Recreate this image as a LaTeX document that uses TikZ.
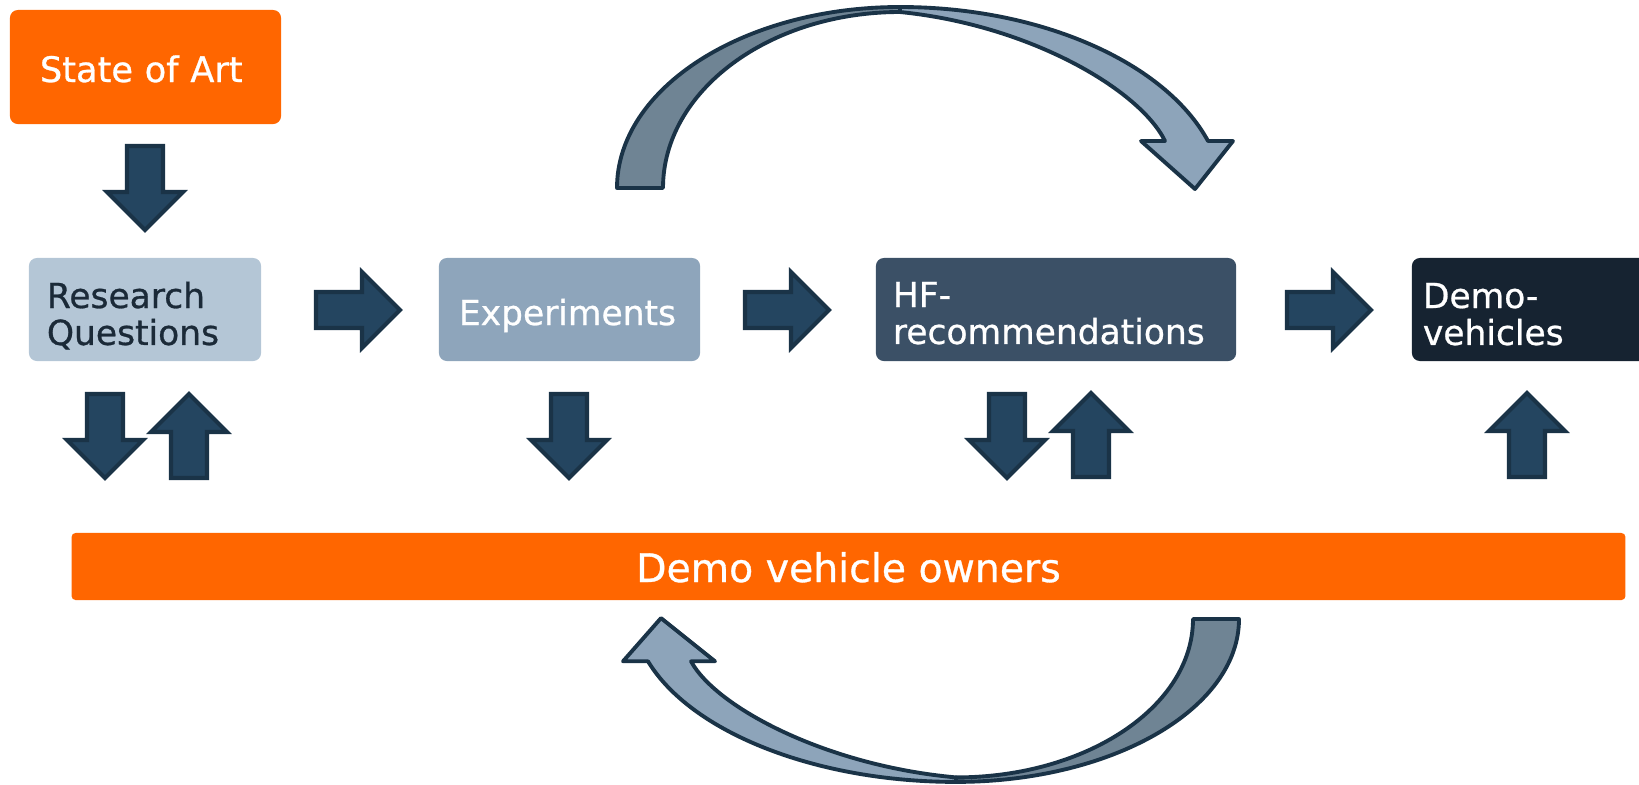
\documentclass[tikz,border=0pt]{standalone}
\usepackage{fontspec}
\setmainfont{DejaVu Sans}[FakeBold=0.8]
\usepackage{tikz}

\definecolor{artorange}{HTML}{FF6600}
\definecolor{rqblue}{HTML}{B4C6D6}
\definecolor{expblue}{HTML}{8EA5BB}
\definecolor{hfblue}{HTML}{3B5066}
\definecolor{demonavy}{HTML}{162331}
\definecolor{textnavy}{HTML}{1B2A38}
\definecolor{arrowfill}{HTML}{244560}
\definecolor{arrowline}{HTML}{1A3347}
\definecolor{loopdark}{HTML}{6F8494}
\definecolor{looplight}{HTML}{8DA4BA}

\begin{document}
\begin{tikzpicture}[
    x=0.01cm, y=-0.01cm,
    box/.style={rectangle, rounded corners=0.08cm, minimum height=1.03cm, align=left, font=\fontsize{9.8}{10.5}\selectfont},
    oneline/.style={text height=0.31cm, text depth=0cm},
    twoline/.style={text height=0.2cm, text depth=0.23cm},
    block arrow/.pic={
        \filldraw[fill=arrowfill, draw=arrowline, line width=1.15pt]
            (-84,-18) -- (-38,-18) -- (-38,-38) -- (0,0) -- (-38,38) -- (-38,18) -- (-84,18) -- cycle;
    },
    loop arrow/.pic={
        \filldraw[fill=loopdark, draw=arrowline, line width=1.1pt, line join=round]
            (617,188) .. controls (617,88) and (744,7) .. (900,7) -- (900,12)
            .. controls (769,12) and (663,91) .. (663,188) -- cycle;
        \filldraw[fill=looplight, draw=arrowline, line width=1.1pt, line join=round]
            (900,7) .. controls (1040,7) and (1165,62) .. (1208,141) -- (1233,141) -- (1195,189)
            -- (1141,141) -- (1165,141) .. controls (1140,90) and (1030,25) .. (900,12) -- cycle;
    }
]
    \useasboundingbox (0,0) rectangle (1639,784);

    % Boxes
    \node[box, oneline, fill=artorange, text=white, minimum width=2.71cm, minimum height=1.14cm, inner xsep=0.3cm, text width=2.11cm, text height=0.3cm, font=\fontsize{10}{12}\selectfont] (art) at (145.5,67) {State of Art};
    \node[box, twoline, fill=rqblue, text=textnavy, inner xsep=0.18cm, text width=1.96cm] (questions) at (145,309.5) {Research\\Questions};
    \node[box, oneline, fill=expblue, text=white, inner xsep=0.2cm, text width=2.21cm] (experiments) at (569.5,309.5) {Experiments};
    \node[box, twoline, fill=hfblue, text=white, inner xsep=0.17cm, text width=3.26cm, text depth=0.25cm] (hfrec) at (1056,309.5) {HF-\\recommendations};
    \node[box, twoline, fill=demonavy, text=white, inner xsep=0.11cm, text width=2.16cm] (demo) at (1531,309.5) {Demo-\\vehicles};

    % Owners bar
    \node[rectangle, rounded corners=0.04cm, fill=artorange, text=white, minimum width=15.53cm, minimum height=0.67cm, text height=0.31cm, text depth=0cm, font=\fontsize{11.2}{14}\selectfont] (owners) at (848.5,566.5) {Demo vehicle owners};

    % Block arrows
    \pic[rotate=-90] at (145,230) {block arrow};
    \pic at (400,310) {block arrow};
    \pic at (829,310) {block arrow};
    \pic at (1371,310) {block arrow};
    \pic[rotate=-90] at (105,478) {block arrow};
    \pic[rotate=90] at (189,394) {block arrow};
    \pic[rotate=-90] at (569,478) {block arrow};
    \pic[rotate=-90] at (1007,478) {block arrow};
    \pic[rotate=90] at (1091,393) {block arrow};
    \pic[rotate=90] at (1527,393) {block arrow};

    % Loop arrows
    \pic at (0,0) {loop arrow};
    \pic[xscale=-1, yscale=-0.9] at (1856,788.2) {loop arrow};
\end{tikzpicture}
\end{document}
